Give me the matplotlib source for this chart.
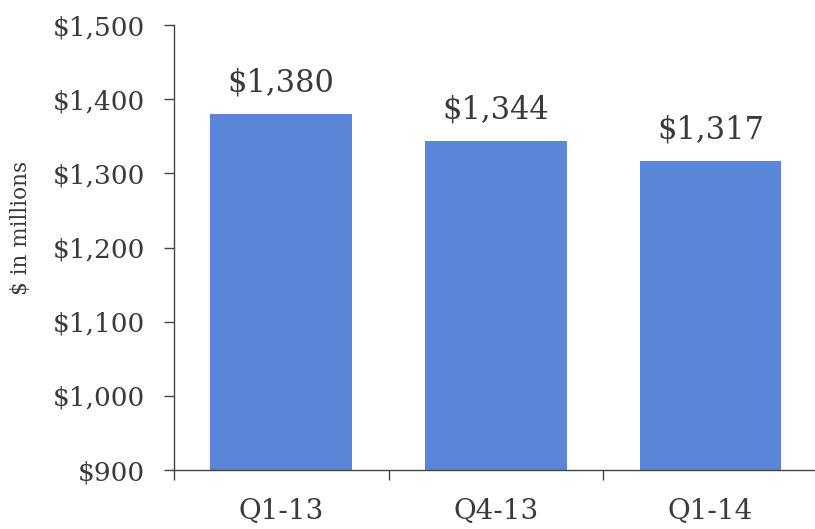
import matplotlib
matplotlib.use("Agg")
import matplotlib.pyplot as plt
from matplotlib.ticker import FuncFormatter

categories = ["Q1-13", "Q4-13", "Q1-14"]
values = [1380, 1344, 1317]
y_ticks = [900, 1000, 1100, 1200, 1300, 1400, 1500]

plt.rcParams["font.family"] = ["DejaVu Serif"]
text_color = "#3a3a3a"
axis_color = "#444444"
bar_color = "#5b86d8"

fig = plt.figure(figsize=(8.15, 5.29), dpi=100)
ax = fig.add_axes([0.2135, 0.1115, 0.79, 0.8412])

x = list(range(len(categories)))
ax.bar(x, values, width=0.66, color=bar_color, edgecolor="none", zorder=2)

# value labels sit a fixed distance above each bar
for xi, v in zip(x, values):
    ax.annotate(f"${v:,}", xy=(xi, v), xytext=(0, 16),
                textcoords="offset points", ha="center", va="baseline",
                fontsize=22, color=text_color)

ax.set_ylim(900, 1500)
ax.set_xlim(-0.5, 2.5)
ax.set_yticks(y_ticks)
ax.yaxis.set_major_formatter(FuncFormatter(lambda v, p: f"${int(v):,}"))

# category boundaries carry the tick marks, names sit at the bar centres
ax.set_xticks([-0.5, 0.5, 1.5, 2.5])
ax.set_xticklabels([])
ax.set_xticks(x, minor=True)
ax.set_xticklabels(categories, minor=True)
ax.tick_params(axis="x", which="minor", length=0, pad=20,
               labelsize=20, labelcolor=text_color)
ax.tick_params(axis="x", which="major", length=7, width=1, color=axis_color,
               direction="out")
ax.tick_params(axis="y", length=7, width=1, color=axis_color, pad=14,
               labelsize=19, labelcolor=text_color)

for side in ("top", "right"):
    ax.spines[side].set_visible(False)
for side in ("left", "bottom"):
    ax.spines[side].set_color(axis_color)
    ax.spines[side].set_linewidth(1)

ax.set_ylabel("$ in millions", fontsize=15.5, color=text_color)
ax.yaxis.set_label_coords(-0.22, 0.545)

fig.savefig("out.png", dpi=100)
